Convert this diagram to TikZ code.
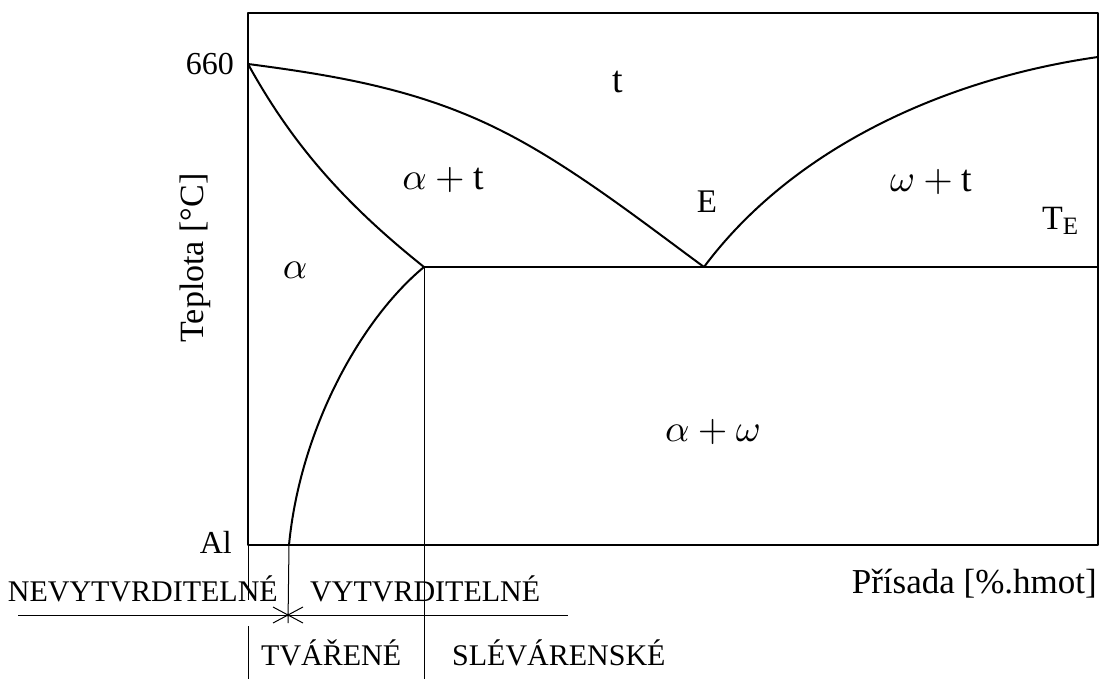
\documentclass[tikz,border=0pt]{standalone}
\usepackage{graphicx}
\usepackage{fontspec}
\setmainfont{Liberation Serif}
\newcommand{\phz}[1]{\scalebox{3.8}{\fontsize{10}{10}\selectfont #1}}
\begin{document}
\begin{tikzpicture}[x=1pt,y=-1pt,
  heavy/.style={line width=2pt,line join=round},
  thin/.style={line width=1pt},
  lbl/.style={inner sep=0pt,font=\fontsize{32}{32}\selectfont},
  axl/.style={inner sep=0pt,font=\fontsize{34}{34}\selectfont},
  bot/.style={inner sep=0pt,font=\fontsize{30}{30}\selectfont},
  phase/.style={inner sep=0pt}]
\useasboundingbox (0,0) rectangle (1106,679);
% key points
\coordinate (TL) at (248,13);
\coordinate (BR) at (1098,545);
\coordinate (M) at (248,64);
\coordinate (S) at (424,267);
\coordinate (E) at (704,267);
\coordinate (R) at (1098,267);
\coordinate (W) at (1098,57);
\coordinate (SB) at (289,545);
\coordinate (Vb) at (424,679);
\coordinate (X) at (288,615);
\coordinate (Xe) at (288,623);
\coordinate (HL) at (18,615);
\coordinate (HR) at (568,615);
\coordinate (L1) at (248,545);
\coordinate (L2) at (248,600);
\coordinate (L3) at (248,626);
\coordinate (L4) at (248,679);
% frame
\draw[heavy] (TL) rectangle (BR);
% eutectic line
\draw[heavy] (S) -- (R);
% liquidus (left)
\draw[heavy] (M) .. controls (340,76) and (420,90) .. (500,130) .. controls (570,165) and (640,220) .. (E);
% solidus
\draw[heavy] (M) .. controls (290,140) and (340,200) .. (S);
% solvus
\draw[heavy] (S) .. controls (360,320) and (300,430) .. (SB);
% liquidus (right)
\draw[heavy] (E) .. controls (795,145) and (950,78) .. (W);
% thin lines
\draw[thin] (S) -- (Vb);
\draw[thin] (SB) -- (Xe);
\draw[thin] (HL) -- (HR);
\draw[thin] (L1) -- (L2);
\draw[thin] (L3) -- (L4);
\draw[thin] ([shift={(-15,-8)}]X) -- ([shift={(15,8)}]X);
\draw[thin] ([shift={(-15,8)}]X) -- ([shift={(15,-8)}]X);
\fill (X) circle (1.6);
% labels
\node[lbl,anchor=base east] (n660) at (234,75) {660};
\node[lbl,anchor=base east] (nAl) at (232,553) {Al};
\node[axl,anchor=base,rotate=90] (nT) at (203,258) {Teplota [°C]};
\node[axl,anchor=base east,font=\fontsize{35}{35}\selectfont] (nP) at (1097,593) {Přísada [\%.hmot]};
\node[lbl,font=\fontsize{38}{38}\selectfont] (nt) at (618,82) {t};
\node[phase] (nat) at (443,180) {\phz{$\alpha + \mathrm{t}$}};
\node[phase] (nwt) at (931,182) {\phz{$\omega + \mathrm{t}$}};
\node[phase] (na) at (295,270) {\phz{$\alpha$}};
\node[phase] (naw) at (713,432) {\phz{$\alpha + \omega$}};
\node[lbl,anchor=base,font=\fontsize{33}{33}\selectfont] (nE) at (707,213) {E};
\node[lbl,anchor=base west,font=\fontsize{34}{34}\selectfont] (nTE) at (1042,230) {T\raisebox{-0.3ex}{\fontsize{25}{25}\selectfont E}};
\node[bot,anchor=base east] (nN) at (278,601) {NEVYTVRDITELNÉ};
\node[bot,anchor=base west] (nV) at (310,601) {VYTVRDITELNÉ};
\node[bot,anchor=base west] (nTv) at (261,665) {TVÁŘENÉ};
\node[bot,anchor=base west] (nS) at (452,665) {SLÉVÁRENSKÉ};
\end{tikzpicture}
\end{document}
